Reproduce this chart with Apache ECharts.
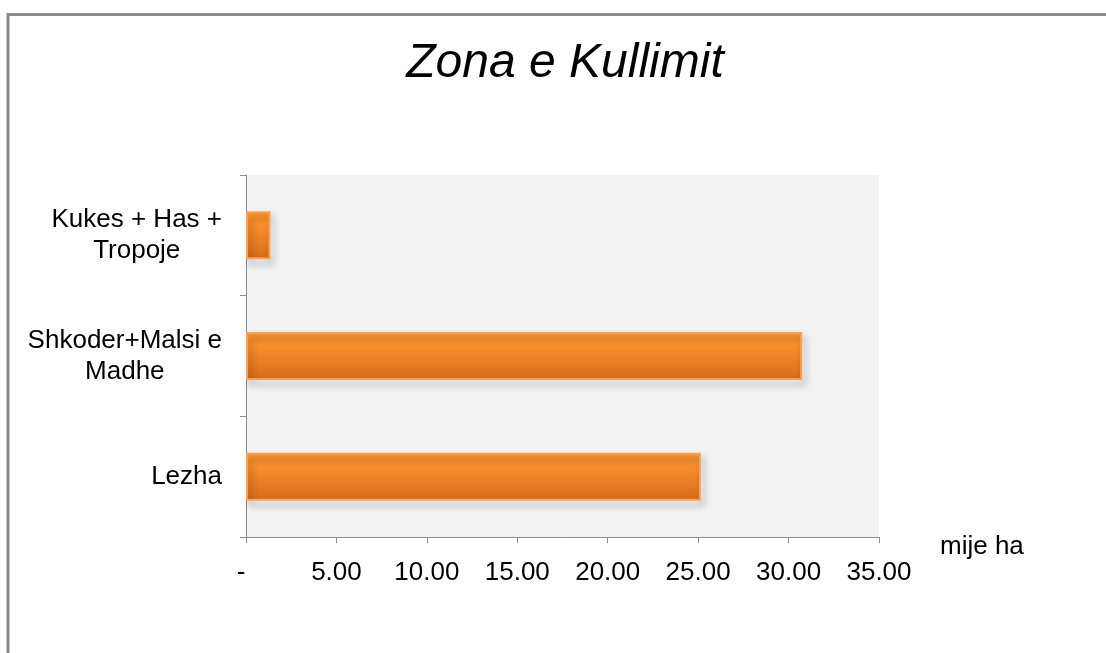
<!DOCTYPE html>
<html>
<head>
<meta charset="utf-8">
<script src="https://cdn.jsdelivr.net/npm/echarts@6/dist/echarts.min.js"></script>
<style>
  html, body { margin: 0; padding: 0; background: #fff; }
  #main { width: 1106px; height: 653px; }
</style>
</head>
<body>
<div id="main"></div>
<script>
// data
var categories = ["Lezha", "Shkoder+Malsi e\nMadhe", "Kukes + Has +\nTropoje"];
var values = [25.15, 30.75, 1.35];
var xTicks = { min: 0, max: 35, interval: 5 };

var chart = echarts.init(document.getElementById("main"));

var option = {
  backgroundColor: "#fff",
  title: {
    text: "Zona e Kullimit",
    top: 35,
    left: 560,
    textAlign: "center",
    textStyle: {
      fontFamily: "Liberation Sans",
      fontStyle: "italic",
      fontWeight: "normal",
      fontSize: 48,
      color: "#000"
    }
  },
  graphic: [
    {
      // outer frame of the chart
      type: "polyline",
      shape: { points: [[8, 660], [8, 14.5], [1120, 14.5]] },
      style: { stroke: "#8a8a8a", lineWidth: 3, fill: null },
      silent: true
    }
  ],
  grid: {
    left: 246,
    right: 227,
    top: 175,
    bottom: 116,
    show: true,
    backgroundColor: "#f2f2f2",
    borderWidth: 0
  },
  xAxis: {
    type: "value",
    min: xTicks.min,
    max: xTicks.max,
    interval: xTicks.interval,
    splitLine: { show: false },
    axisLine: { show: true, lineStyle: { color: "#8c8c8c", width: 1 } },
    axisTick: { show: true, length: 6, lineStyle: { color: "#8c8c8c" } },
    axisLabel: {
      margin: 23,
      fontFamily: "Liberation Sans",
      fontSize: 26,
      color: "#000",
      formatter: function (v) {
        return v === 0 ? "{d|-}" : v.toFixed(2);
      },
      rich: {
        d: { fontFamily: "Liberation Sans", fontSize: 26, color: "#000", padding: [0, 10, 0, 0] }
      }
    },
    name: "mije ha",
    nameLocation: "end",
    nameGap: 61,
    nameTextStyle: {
      fontFamily: "Liberation Sans",
      fontSize: 26,
      color: "#000",
      verticalAlign: "top",
      lineHeight: 20
    }
  },
  yAxis: {
    type: "category",
    data: categories,
    axisLine: { show: true, lineStyle: { color: "#8c8c8c", width: 1 } },
    axisTick: { show: true, length: 6, lineStyle: { color: "#8c8c8c" } },
    axisLabel: {
      margin: 24,
      align: "right",
      formatter: function (v) {
        // each line centred inside the right-aligned block
        return v.split("\n").map(function (s) { return "{c|" + s + "}"; }).join("\n");
      },
      rich: {
        c: {
          align: "center",
          fontFamily: "Liberation Sans",
          fontSize: 26,
          lineHeight: 31,
          color: "#000"
        }
      }
    }
  },
  series: [
    {
      type: "bar",
      data: values,
      barWidth: 48,
      itemStyle: {
        color: new echarts.graphic.LinearGradient(0, 0, 0, 1, [
          { offset: 0, color: "#ff9933" },
          { offset: 0.35, color: "#f68c2c" },
          { offset: 1, color: "#d66b1c" }
        ]),
        borderColor: "#f9a054",
        borderWidth: 2,
        shadowColor: "rgba(0,0,0,0.4)",
        shadowBlur: 7,
        shadowOffsetX: 3,
        shadowOffsetY: 5
      }
    }
  ]
};

chart.setOption(option);
</script>
</body>
</html>
